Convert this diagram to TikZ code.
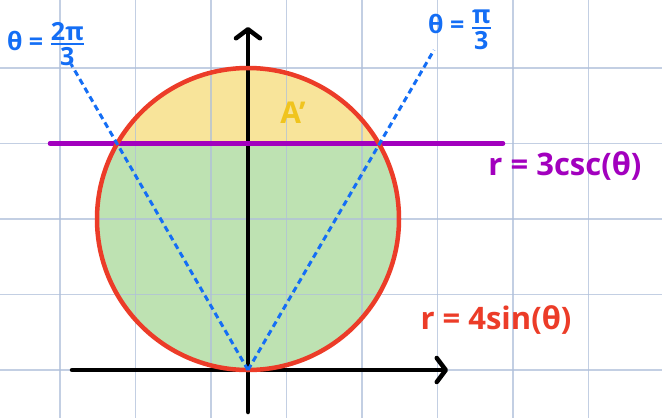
\documentclass[tikz,border=0pt]{standalone}
\usepackage{amsmath}
\usepackage{fontspec}
\setmainfont{Open Sans}
\usetikzlibrary{arrows.meta}
\definecolor{gridc}{RGB}{176,192,218}
\definecolor{greenf}{RGB}{190,226,178}
\definecolor{yellowf}{RGB}{248,228,154}
\definecolor{redc}{RGB}{236,60,40}
\definecolor{purplec}{RGB}{162,0,190}
\definecolor{bluec}{RGB}{20,110,245}
\definecolor{goldc}{RGB}{240,196,30}
\tikzset{
  gridline/.style={draw=gridc, line width=1.4pt},
  axis/.style={draw=black, line width=4.5pt, line cap=round,
    -{Straight Barb[length=9pt,width=24pt,line width=4.5pt,round]}},
  ray/.style={draw=bluec, line width=3pt, dash pattern=on 6pt off 4pt},
  curve/.style={draw=redc, line width=4.5pt},
  cscline/.style={draw=purplec, line width=4.5pt, line cap=round},
  lab/.style={inner sep=0pt, font=\bfseries\fontsize{31}{36}\selectfont},
}
\newcommand{\myfrac}[2]{$\genfrac{}{}{2.5pt}{1}{\mbox{\bfseries #1}}{\mbox{\bfseries #2}}$}
\begin{document}
\begin{tikzpicture}[x=1pt,y=-1pt]
\useasboundingbox (0,0) rectangle (662,418);
\fill[white] (0,0) rectangle (662,418);
% region fills
\begin{scope}
  \clip (0,143.5) rectangle (662,418);
  \fill[greenf] (248,219) circle[radius=151pt];
\end{scope}
\begin{scope}
  \clip (0,0) rectangle (662,143.5);
  \fill[yellowf] (248,219) circle[radius=151pt];
\end{scope}
% grid
\begin{scope}[opacity=0.75]
\foreach \k in {0,...,8} {
  \draw[gridline] ({60+75.5*\k},0) -- ({60+75.5*\k},418);
}
\foreach \y in {370,294.5,219,143.5,68} {
  \draw[gridline] (0,\y) -- (662,\y);
}
\end{scope}
% coordinates
\coordinate (O) at (248,370);
\coordinate (xl) at (72,370);
\coordinate (xr) at (448,370);
\coordinate (yb) at (248,412);
\coordinate (yt) at (248,27);
\coordinate (cl) at (50,143.5);
\coordinate (cr) at (503,143.5);
\coordinate (t1) at (434,50);
\coordinate (t2) at (71,64);
% axes
\draw[axis] (xl) -- (xr);
\draw[axis] (yb) -- (yt);
% r = 3 csc
\draw[cscline] (cl) -- (cr);
% circle r = 4 sin
\draw[curve] (248,219) circle[radius=151pt];
% rays
\draw[ray] (O) -- (t1);
\draw[ray] (O) -- (t2);
% labels
\node[lab, text=goldc, font=\bfseries\fontsize{30}{34}\selectfont] (A) at (293,113) {A'};
\node[lab, text=purplec] (csc) at (565,166) {r = 3csc(θ)};
\node[lab, text=redc] (sin) at (496,320) {r = 4sin(θ)};
\node[lab, text=bluec, font=\bfseries\fontsize{25}{30}\selectfont] (th1) at (460,30) {θ = \myfrac{π}{3}};
\node[lab, text=bluec, font=\bfseries\fontsize{25}{30}\selectfont] (th2) at (46,44) {θ = \myfrac{2π}{3}};
\end{tikzpicture}
\end{document}
